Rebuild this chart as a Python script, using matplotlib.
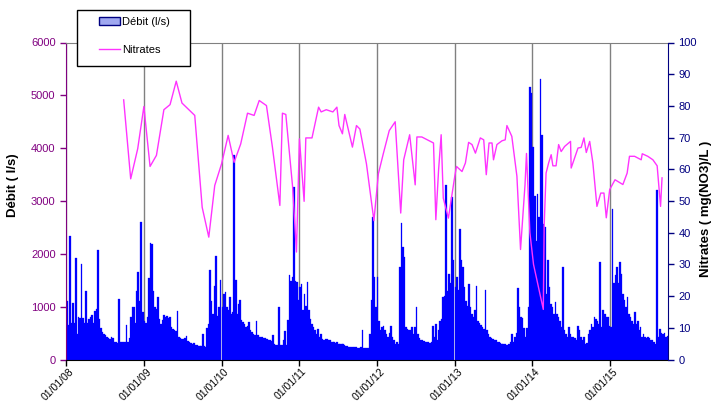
import pandas as pd
import matplotlib
matplotlib.use('Agg')
import matplotlib.pyplot as plt
import matplotlib.dates as mdates
import matplotlib.transforms as mtrans
from matplotlib.patches import Patch, Rectangle
from matplotlib.lines import Line2D

plt.rcParams['font.family'] = ['Liberation Sans', 'DejaVu Sans']

# débit hebdomadaire (l/s), une liste par année, semaines depuis le 1er janvier
debit_2008 = [1100, 650, 2330, 700, 1060, 700, 1930, 490, 800, 780, 1800, 780, 700,
              1300, 700, 760, 800, 850, 700, 910, 950, 2080, 760, 600, 520, 480,
              470, 430, 400, 380, 420, 400, 340, 330, 320, 1150, 330, 330, 330, 330,
              660, 330, 400, 800, 1000, 1000, 700, 1300, 1650, 1100, 2600, 900]
debit_2009 = [720, 700, 800, 1550, 2200, 2180, 1300, 1000, 950, 1180, 760, 680, 750,
              850, 800, 830, 780, 800, 620, 580, 550, 540, 920, 420, 400, 390,
              380, 400, 450, 350, 330, 320, 300, 320, 280, 280, 260, 250, 250, 490,
              250, 240, 600, 680, 1690, 1100, 870, 1400, 1950, 830, 1000, 1500]
debit_2010 = [990, 1240, 1275, 990, 930, 1180, 865, 900, 3880, 1500, 865, 1055, 1130,
              740, 706, 680, 612, 640, 706, 549, 520, 486, 460, 725, 455, 430,
              423, 420, 410, 400, 380, 360, 360, 350, 455, 297, 265, 265, 1000, 265,
              280, 370, 536, 280, 740, 1600, 1495, 1560, 3270, 1495, 1464, 1117]
debit_2011 = [1370, 1420, 930, 1240, 1020, 1464, 930, 770, 675, 612, 549, 486, 580,
              423, 486, 390, 360, 380, 390, 370, 360, 340, 330, 328, 320, 328,
              300, 297, 290, 297, 280, 260, 250, 240, 233, 233, 233, 230, 230, 225,
              225, 230, 562, 220, 220, 215, 220, 486, 1117, 2690, 1560, 990]
debit_2012 = [1558, 738, 550, 612, 640, 560, 486, 420, 500, 640, 420, 360, 297,
              330, 297, 1750, 2590, 2130, 1940, 612, 580, 550, 550, 612, 486, 612,
              1000, 486, 400, 360, 360, 350, 340, 330, 330, 320, 330, 640, 420, 675,
              360, 550, 738, 770, 1180, 1200, 3294, 1300, 1620, 1450, 3073, 1874]
debit_2013 = [1369, 1558, 1306, 2474, 1874, 1750, 1370, 1100, 1020, 1430, 991, 865, 800,
              930, 1400, 738, 700, 650, 612, 580, 1320, 550, 486, 420, 400, 380,
              360, 360, 340, 330, 320, 297, 297, 290, 265, 280, 297, 330, 486, 330,
              420, 500, 1350, 991, 800, 780, 600, 420, 600, 1000, 5150, 5050]
debit_2014 = [4020, 3100, 2250, 3136, 2700, 5313, 4250, 2570, 2500, 1243, 1874, 1369, 1050,
              990, 865, 1080, 865, 800, 738, 612, 1750, 550, 486, 420, 612, 486,
              420, 420, 400, 360, 640, 550, 420, 360, 420, 297, 310, 486, 550, 675,
              612, 800, 770, 738, 675, 1850, 612, 930, 865, 800, 800, 640]
debit_2015 = [612, 2850, 1450, 1600, 1750, 1450, 1850, 1620, 1243, 1117, 991, 1180, 865,
              800, 738, 675, 900, 675, 738, 550, 612, 420, 486, 420, 400, 420,
              400, 360, 370, 330, 297, 3200, 420, 580, 500, 486, 500, 420, 450]

annees = [2008, 2009, 2010, 2011, 2012, 2013, 2014, 2015]
debits = [debit_2008, debit_2009, debit_2010, debit_2011,
          debit_2012, debit_2013, debit_2014, debit_2015]

# nitrates (mg(NO3)/L), prélèvements ponctuels
nitrate_dates = [
    '2008-09-28', '2008-10-31', '2008-12-03', '2009-01-01', '2009-01-30', '2009-03-01',
    '2009-04-05', '2009-05-04', '2009-06-02', '2009-06-29', '2009-08-28', '2009-10-02',
    '2009-11-02', '2009-11-30', '2010-01-01', '2010-02-01', '2010-03-01', '2010-04-01',
    '2010-05-03', '2010-06-03', '2010-06-27', '2010-07-31', '2010-08-28', '2010-10-02',
    '2010-10-14', '2010-10-30', '2010-12-01', '2010-12-19', '2011-01-02', '2011-01-24',
    '2011-02-01', '2011-03-02', '2011-04-02', '2011-04-14', '2011-05-08', '2011-06-08',
    '2011-06-27', '2011-07-07', '2011-07-23', '2011-08-03', '2011-09-08', '2011-09-27',
    '2011-10-13', '2011-11-13', '2011-12-18', '2012-01-08', '2012-01-31', '2012-02-28',
    '2012-03-27', '2012-04-22', '2012-05-06', '2012-06-03', '2012-06-29', '2012-07-07',
    '2012-07-30', '2012-09-23', '2012-10-04', '2012-10-17', '2012-10-29', '2012-11-08',
    '2012-12-02', '2013-01-01', '2013-01-09', '2013-02-04', '2013-02-20', '2013-03-07',
    '2013-03-23', '2013-04-08', '2013-05-01', '2013-05-17', '2013-05-29', '2013-06-11',
    '2013-06-25', '2013-07-02', '2013-07-18', '2013-08-11', '2013-08-26', '2013-09-03',
    '2013-09-26', '2013-10-20', '2013-11-06', '2013-11-27', '2013-12-04', '2013-12-20',
    '2014-01-06', '2014-02-21', '2014-02-25', '2014-03-06', '2014-03-18', '2014-03-30',
    '2014-04-07', '2014-04-22', '2014-05-04', '2014-05-16', '2014-06-01', '2014-06-29',
    '2014-07-02', '2014-08-03', '2014-08-18', '2014-08-31', '2014-09-11', '2014-09-27',
    '2014-10-12', '2014-10-31', '2014-11-18', '2014-12-03', '2014-12-14', '2014-12-30',
    '2015-01-24', '2015-03-02', '2015-03-22', '2015-04-02', '2015-04-26', '2015-05-27',
    '2015-06-01', '2015-06-27', '2015-07-21', '2015-08-10', '2015-08-26', '2015-09-02',
]
nitrate_values = [
    81.9, 57.0, 66.5, 79.8, 60.9, 64.4,
    78.8, 80.4, 87.8, 80.9, 77.0, 48.0,
    38.6, 54.9, 61.7, 70.7, 62.2, 68.0,
    77.7, 77.0, 81.7, 80.1, 67.0, 48.6,
    77.7, 77.3, 54.4, 33.9, 69.6, 49.9,
    69.9, 69.9, 79.6, 78.1, 78.8, 78.1,
    79.6, 73.8, 71.2, 77.3, 67.0, 73.8,
    72.7, 61.7, 43.8, 58.6, 64.9, 72.2,
    75.0, 46.2, 63.0, 70.9, 55.1, 70.2,
    70.2, 68.3, 44.1, 59.9, 70.9, 50.9,
    44.6, 57.8, 60.9, 59.3, 62.0, 68.5,
    67.8, 65.1, 69.9, 69.3, 58.3, 68.3,
    68.3, 63.0, 67.8, 69.0, 69.3, 73.8,
    70.4, 57.8, 34.7, 55.1, 65.0, 40.0,
    30.0, 15.8, 42.0, 58.8, 62.0, 64.6,
    61.1, 61.1, 67.8, 65.6, 67.2, 68.8,
    60.4, 66.7, 66.9, 69.9, 65.3, 68.8,
    62.0, 48.3, 52.5, 52.5, 44.7, 53.6,
    56.7, 55.2, 58.8, 64.1, 64.1, 63.0,
    64.9, 64.1, 63.0, 61.1, 48.3, 57.3,
]

# mise bout à bout des semaines
dates = []
valeurs = []
for an, serie in zip(annees, debits):
    dates.extend(pd.date_range(f'{an}-01-01', periods=len(serie), freq='7D'))
    valeurs.extend(serie)

violet = '#800080'
marine = '#000080'
magenta = '#ff33ff'

fig = plt.figure(figsize=(7.13, 4.01), dpi=100)
ax1 = fig.add_axes([66 / 713, 1 - 359.5 / 401, 602 / 713, 317 / 401])

ax1.bar(dates, valeurs, width=7.4, align='edge', color='#0000ff',
        edgecolor='#0000ff', linewidth=0.2, zorder=2)
ax1.set_xlim(pd.Timestamp('2008-01-01'), pd.Timestamp('2015-09-30'))
ax1.set_ylim(0, 6000)
ax1.set_yticks(range(0, 6001, 1000))
ax1.xaxis.set_major_locator(mdates.YearLocator())
ax1.xaxis.set_major_formatter(mdates.DateFormatter('%d/%m/%y'))
ax1.set_axisbelow(True)
ax1.grid(axis='x', color='#808080', lw=1)

ax1.tick_params(axis='y', colors=violet, labelsize=8, length=4, width=1)
ax1.tick_params(axis='x', colors='black', labelsize=7.5, length=4, width=1)
decal = mtrans.ScaledTranslation(0.06, 0, fig.dpi_scale_trans)
for lab in ax1.get_xticklabels():
    lab.set_rotation(45)
    lab.set_ha('right')
    lab.set_va('center')
    lab.set_rotation_mode('anchor')
    lab.set_transform(lab.get_transform() + decal)

ax1.spines['left'].set_color(violet)
ax1.spines['top'].set_color('#808080')
ax1.spines['bottom'].set_color('black')
ax1.spines['right'].set_visible(False)

ax2 = ax1.twinx()
ax2.plot(pd.to_datetime(nitrate_dates), nitrate_values, color=magenta, lw=1)
ax2.set_ylim(0, 100)
ax2.set_yticks(range(0, 101, 10))
ax2.tick_params(axis='y', colors=marine, labelsize=8, length=4, width=1)
ax2.spines['right'].set_color(marine)
for s in ['left', 'top', 'bottom']:
    ax2.spines[s].set_visible(False)

fig.text(13 / 713, 1 - 185 / 401, 'Débit ( l/s)', rotation=90, fontsize=9.5,
         fontweight='bold', ha='center', va='center')
fig.text(706 / 713, 1 - 209 / 401, 'Nitrates ( mg(NO3)/L )', rotation=90,
         fontsize=9.5, fontweight='bold', ha='center', va='center')

# cadre de légende dessiné à part pour retrouver les marges larges
fig.patches.append(Rectangle((77 / 713, 1 - 66 / 401), 113 / 713, 56 / 401,
                             transform=fig.transFigure, facecolor='white',
                             edgecolor='black', linewidth=1, zorder=3))
handles = [Patch(facecolor='#a0a8f0', edgecolor=marine, linewidth=1),
           Line2D([0], [0], color=magenta, lw=1)]
leg = fig.legend(handles, ['Débit (l/s)', 'Nitrates'], loc='upper left',
                 bbox_to_anchor=(99 / 713, 1 - 17 / 401), fontsize=8,
                 frameon=False, labelspacing=1.6, handlelength=1.9,
                 handletextpad=0.2, borderpad=0, borderaxespad=0)
leg.set_zorder(4)

fig.savefig('out.png', dpi=100)
